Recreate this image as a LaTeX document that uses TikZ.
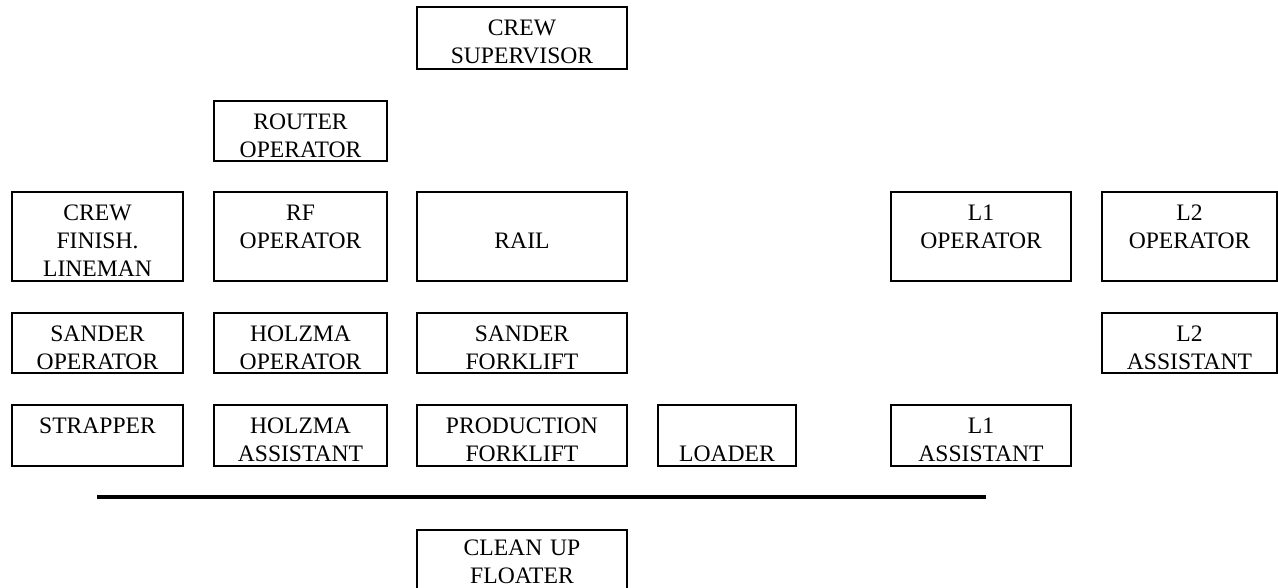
\documentclass[tikz,border=0pt]{standalone}
\usepackage{fontspec}
\setmainfont{Liberation Serif}
\tikzset{
  rolebox/.style 2 args={draw, line width=0.9pt, inner sep=0pt, anchor=north,
    align=center, text width=#1, text height=14.5pt, text depth=#2,
    font=\fontsize{11.8}{14}\selectfont},
  divider/.style={line width=2pt}
}
\begin{document}
\begin{tikzpicture}[x=0.5pt,y=-0.5pt]
\useasboundingbox (0,0) rectangle (1278,588);

% Top of the chart
\node[rolebox={104.75pt}{16.5pt}] (supervisor) at (522,6) {CREW\\SUPERVISOR};
\node[rolebox={86.5pt}{15.5pt}] (router) at (300.5,100) {ROUTER\\OPERATOR};

% Third row
\node[rolebox={85.5pt}{30pt}] (lineman) at (97.5,191) {CREW\\FINISH.\\LINEMAN};
\node[rolebox={86.5pt}{30pt}] (rfop) at (300.5,191) {RF\\OPERATOR};
\node[rolebox={104.75pt}{30pt}] (rail) at (522,191) {~\\RAIL};
\node[rolebox={90pt}{30pt}] (loneop) at (981,191) {L1\\OPERATOR};
\node[rolebox={87.5pt}{30pt}] (ltwoop) at (1189.5,191) {L2\\OPERATOR};

% Fourth row
\node[rolebox={85.5pt}{15.5pt}] (sanderop) at (97.5,312) {SANDER\\OPERATOR};
\node[rolebox={86.5pt}{15.5pt}] (holzmaop) at (300.5,312) {HOLZMA\\OPERATOR};
\node[rolebox={104.75pt}{15.5pt}] (sanderfork) at (522,312) {SANDER\\FORKLIFT};
\node[rolebox={87.5pt}{15.5pt}] (ltwoasst) at (1189.5,312) {L2\\ASSISTANT};

% Fifth row
\node[rolebox={85.5pt}{16pt}] (strapper) at (97.5,404) {STRAPPER};
\node[rolebox={86.5pt}{16pt}] (holzmaasst) at (300.5,404) {HOLZMA\\ASSISTANT};
\node[rolebox={104.75pt}{16pt}] (prodfork) at (522,404) {PRODUCTION\\FORKLIFT};
\node[rolebox={69pt}{16pt}] (loader) at (727,404) {~\\LOADER};
\node[rolebox={90pt}{16pt}] (loneasst) at (981,404) {L1\\ASSISTANT};

% Divider and floater
\draw[divider] (97,497) -- (986,497);
\node[rolebox={104.75pt}{19pt}, text height=13pt] (cleanup) at (522,529) {CLEAN UP\\FLOATER};

\end{tikzpicture}
\end{document}
